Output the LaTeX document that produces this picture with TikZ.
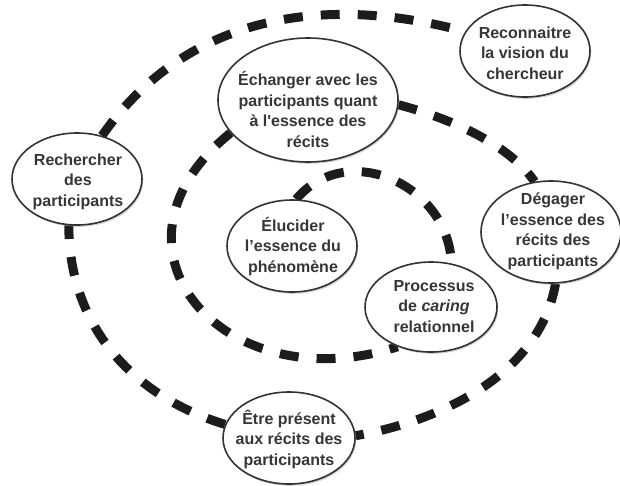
\documentclass[tikz,border=0pt]{standalone}
\usepackage{fontspec}
\setmainfont{Liberation Sans}
\usepackage{textcomp}
\usetikzlibrary{shapes.geometric,shadows}
\pgfdeclarelayer{bg}
\pgfsetlayers{bg,main}
\definecolor{ink}{HTML}{1C1C1C}
\definecolor{txtc}{HTML}{363636}
\begin{document}
\begin{tikzpicture}[x=1pt,y=1pt,
  ell/.style={ellipse, draw=black!80, line width=1.6pt, fill=white, inner sep=0pt,
    drop shadow={shadow xshift=1.2pt, shadow yshift=-1.8pt, opacity=0.35}},
  lbl/.style={align=center, font=\fontsize{16}{20.5}\selectfont\bfseries, text=txtc, inner sep=0pt},
  link/.style={draw=ink, line width=9pt, dash pattern=on 19pt off 18pt}]
\useasboundingbox (0,0) rectangle (620,-485);

% ellipses
\node[ell, minimum width=130pt, minimum height=92pt]  (reco) at (525,-51)  {};
\node[ell, minimum width=180pt, minimum height=124pt] (ech)  at (308,-100) {};
\node[ell, minimum width=130pt, minimum height=92pt]  (rech) at (77,-179)  {};
\node[ell, minimum width=140pt, minimum height=102pt] (deg)  at (551,-232) {};
\node[ell, minimum width=130pt, minimum height=92pt]  (eluc) at (292,-246) {};
\node[ell, minimum width=132pt, minimum height=90pt]  (proc) at (431,-307) {};
\node[ell, minimum width=132pt, minimum height=92pt]  (etre) at (289,-438) {};

% texts
\node[lbl] (reco-t) at (525,-53.2)  {Reconnaitre\\la vision du\\chercheur};
\node[lbl] (ech-t)  at (308,-109.5) {Échanger avec les\\participants quant\\à l\textquotesingle essence des\\récits};
\node[lbl] (rech-t) at (78,-181.8)  {Rechercher\\des\\participants};
\node[lbl] (deg-t)  at (553,-231.4) {Dégager\\l’essence des\\récits des\\participants};
\node[lbl] (eluc-t) at (293,-246.2) {Élucider\\l’essence du\\phénomène};
\node[lbl] (proc-t) at (434,-306.2) {Processus\\de \textit{caring}\\relationnel};
\node[lbl] (etre-t) at (289,-439.3) {Être présent\\aux récits des\\participants};

% dashed links
\begin{pgfonlayer}{bg}
\fill[white] (0,0) rectangle (620,-485);
\draw[link] (rech.60)  to[out=55,  in=165,  looseness=1]    (reco.162);
\draw[link] (ech.-3)   to[out=-15, in=125,  looseness=0.8]  (deg.108);
\draw[link] (deg.-85)  to[out=-100, in=10,  looseness=0.92] (etre.2);
\draw[link] (etre.168) to[out=163, in=-90,  looseness=1]    (rech.-100);
\draw[link] (ech.-157) to[out=-141, in=-162, looseness=1.72] (proc.-130);
\draw[link] (eluc.85)  to[out=50,  in=92,   looseness=1.2]  (proc.65);
\end{pgfonlayer}
\end{tikzpicture}
\end{document}
